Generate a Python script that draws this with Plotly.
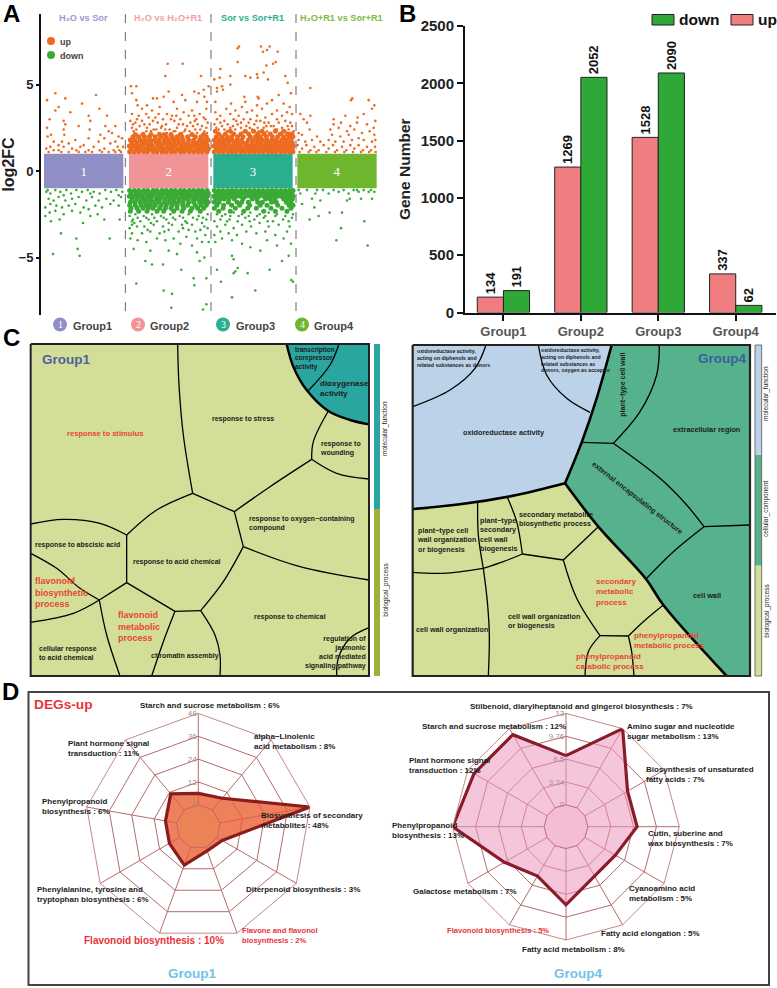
import plotly.graph_objects as go

W, H = 777, 988
FONT = "Liberation Sans"

# -------------------------------
# panel A : log2FC strip, x is only the gene position inside a group
# -------------------------------
a_groups = [250, 505, 758, 1010]
a_numbers = ["1", "2", "3", "4"]
a_colors = ["#8F8FC6", "#F09498", "#2BAE8F", "#6FB62F"]
a_titles = ["H₂O vs Sor", "H₂O vs H₂O+R1", "Sor vs Sor+R1", "H₂O+R1 vs Sor+R1"]
a_title_colors = ["#9A9AD0", "#F2A2A2", "#2BAE8F", "#7DBB3E"]
a_dividers = [375, 632, 887]

up1 = [(140,4.1),(165,4.5),(195,4.2),(245,3.9),(287,4.4),(297,3.6),(320,3.2),(175,3.7),(165,3.5),(210,3.4),(148,3.0),(190,2.9),(265,3.2),(270,2.9),(235,2.6),(195,2.7),(190,2.4),(192,2.1),(140,2.5),(142,2.0),(152,2.1),(268,2.4),(315,2.6),(345,2.6),(335,2.2),(325,2.3),(300,2.1),(355,2.0),(365,1.9),(345,1.7),(160,1.7),(175,1.5),(185,1.7),(205,1.6),(225,1.8),(250,1.5),(265,1.9),(295,1.7),(312,1.9),(330,1.6),(138,1.3),(150,1.4),(160,1.2),(175,1.2),(190,1.4),(205,1.1),(215,1.3),(228,1.2),(240,1.4),(255,1.1),(265,1.2),(280,1.4),(298,1.2),(312,1.3),(325,1.1),(340,1.2),(352,1.4),(362,1.1),(368,1.4),(145,1.1),(183,1.1),(235,1.1),(275,1.1),(305,1.1),(345,1.1),(357,1.2)]
up2 = [(392,4.9),(408,4.9),(395,4.5),(408,4.1),(412,3.8),(440,3.8),(458,4.2),(470,4.2),(490,4.3),(505,4.6),(495,5.5),(502,6.2),(547,6.2),(602,5.5),(625,4.9),(610,4.7),(582,4.6),(595,4.5),(612,4.3),(520,4.0),(545,4.4),(555,4.1),(590,4.0),(620,4.0),(425,3.6),(455,3.5),(478,3.7),(500,3.3),(530,3.6),(550,3.4),(575,3.5),(598,3.3),(618,3.6),(395,3.3),(415,3.2),(438,3.3),(465,3.1),(488,3.0),(515,3.2),(540,3.0),(565,3.2),(588,3.0),(610,3.1),(390,2.9),(405,2.8),(425,2.9),(448,2.7),(472,2.8),(497,2.7),(522,2.9),(548,2.7),(570,2.8),(592,2.7),(622,2.8),(395,2.5),(418,2.6),(440,2.5),(460,2.4),(482,2.5),(508,2.4),(530,2.5),(555,2.4),(578,2.6),(600,2.4),(618,2.5),(400,2.3),(430,2.2),(452,2.3),(475,2.2),(500,2.2),(525,2.3),(545,2.2),(568,2.3),(590,2.2),(612,2.3),(410,3.0),(432,2.7),(458,2.9),(485,2.6),(512,3.0),(535,2.7),(560,2.6),(583,2.9),(605,2.6),(398,2.7),(445,3.1),(475,3.3),(528,3.2),(582,3.2),(615,3.0),(408,2.4),(438,2.3),(468,2.4),(495,2.4),(520,2.3),(552,2.3),(585,2.4),(620,2.2)]
up3 = [(712,7.1),(716,7.2),(712,6.3),(782,7.2),(788,6.9),(800,7.0),(808,7.2),(832,6.9),(826,6.3),(818,6.2),(798,6.1),(660,5.9),(642,5.3),(658,5.4),(690,5.5),(735,5.5),(750,5.4),(770,5.6),(772,5.4),(790,5.7),(803,5.3),(855,5.5),(862,5.1),(650,4.8),(665,4.9),(690,5.0),(650,4.6),(668,4.7),(732,4.3),(772,4.3),(775,4.2),(835,4.4),(872,4.5),(645,4.0),(692,3.9),(735,4.0),(770,3.8),(800,3.9),(815,4.1),(850,3.9),(868,3.7),(678,3.6),(705,3.5),(725,3.7),(755,3.5),(785,3.6),(830,3.5),(860,3.4),(645,3.4),(660,3.2),(690,3.3),(715,3.2),(740,3.4),(770,3.2),(795,3.1),(815,3.3),(845,3.2),(875,3.3),(650,3.0),(672,2.9),(700,3.0),(722,2.8),(750,3.0),(780,2.9),(805,2.8),(830,3.0),(855,2.9),(870,2.8),(642,2.7),(665,2.6),(690,2.5),(712,2.7),(738,2.6),(762,2.7),(790,2.5),(820,2.6),(845,2.5),(875,2.6),(655,2.4),(680,2.3),(705,2.4),(730,2.3),(755,2.4),(775,2.3),(800,2.3),(825,2.4),(855,2.3),(870,2.2),(660,2.8),(682,2.7),(708,2.9),(730,3.0),(745,2.8),(768,2.9),(792,2.8),(812,2.6),(835,2.8),(862,2.6),(648,2.5),(672,2.4),(698,2.6),(722,2.5),(748,2.5),(772,2.5),(798,2.6),(830,2.4),(865,2.4),(880,2.3)]
up4 = [(900,3.3),(910,3.0),(930,4.8),(930,3.2),(920,2.8),(895,2.2),(905,2.1),(928,2.4),(950,2.0),(1052,4.1),(1056,4.2),(1105,4.1),(1122,3.8),(1115,3.6),(1000,3.0),(1035,3.2),(1072,3.1),(1090,3.3),(1125,2.9),(1000,2.7),(1022,2.8),(1050,2.6),(1070,2.8),(1100,2.7),(1120,2.5),(990,2.4),(1015,2.5),(1040,2.3),(1062,2.4),(1085,2.2),(1108,2.3),(1122,2.1),(995,2.1),(1020,2.0),(1045,2.1),(1075,1.9),(895,1.8),(915,1.7),(935,1.8),(960,1.7),(985,1.8),(1005,1.7),(1030,1.7),(1055,1.8),(1090,1.8),(1115,1.7),(1125,1.8),(892,1.5),(905,1.3),(918,1.5),(930,1.2),(942,1.4),(955,1.2),(970,1.5),(985,1.3),(998,1.5),(1010,1.2),(1025,1.4),(1038,1.2),(1050,1.5),(1062,1.3),(1075,1.5),(1088,1.2),(1100,1.4),(1112,1.2),(1124,1.4),(898,1.1),(925,1.1),(948,1.1),(978,1.1),(1004,1.1),(1032,1.1),(1058,1.1),(1082,1.1),(1106,1.1),(1126,1.1)]
down1 = [(158,-4.8),(238,-4.9),(232,-4.5),(182,-3.6),(228,-3.9),(328,-3.9),(248,-3.0),(312,-2.8),(358,-2.8),(135,-2.6),(152,-2.9),(178,-2.8),(270,-2.6),(292,-2.5),(148,-2.4),(165,-2.3),(190,-2.5),(215,-2.3),(240,-2.4),(265,-2.2),(135,-2.1),(150,-1.9),(168,-2.0),(185,-2.1),(205,-2.0),(225,-1.9),(250,-2.1),(285,-2.0),(305,-2.1),(330,-1.9),(355,-2.0),(145,-1.6),(160,-1.7),(175,-1.5),(195,-1.7),(215,-1.6),(235,-1.5),(258,-1.7),(275,-1.5),(295,-1.7),(318,-1.6),(340,-1.7),(362,-1.5),(138,-1.2),(150,-1.3),(165,-1.1),(180,-1.2),(198,-1.1),(212,-1.3),(228,-1.1),(245,-1.2),(262,-1.1),(280,-1.2),(298,-1.3),(315,-1.1),(332,-1.2),(348,-1.1),(366,-1.2),(142,-1.1),(190,-1.4),(270,-1.3),(355,-1.4)]
down2 = [(455,-8.4),(513,-7.9),(608,-8.0),(618,-7.7),(490,-6.9),(515,-7.1),(408,-6.5),(582,-6.6),(580,-6.2),(618,-6.2),(543,-5.7),(435,-5.2),(455,-5.4),(488,-5.4),(598,-5.2),(612,-5.0),(400,-4.5),(450,-4.6),(505,-4.6),(530,-4.8),(590,-4.7),(540,-4.2),(575,-4.3),(605,-4.1),(625,-4.1),(390,-3.9),(412,-4.0),(438,-4.1),(470,-3.9),(495,-4.0),(520,-3.9),(558,-3.8),(590,-3.9),(615,-3.7),(395,-3.6),(425,-3.6),(450,-3.5),(478,-3.6),(505,-3.4),(535,-3.5),(565,-3.4),(600,-3.4),(622,-3.3),(388,-3.3),(410,-3.2),(432,-3.2),(460,-3.1),(488,-3.2),(515,-3.1),(545,-3.1),(575,-3.1),(605,-3.0),(395,-2.9),(420,-2.9),(445,-2.8),(470,-2.9),(498,-2.8),(525,-2.8),(555,-2.9),(590,-2.8),(618,-2.8),(388,-2.6),(405,-2.5),(430,-2.6),(455,-2.5),(482,-2.6),(510,-2.5),(538,-2.6),(565,-2.5),(595,-2.6),(622,-2.5),(398,-2.8),(412,-2.7),(438,-2.7),(462,-2.7),(490,-2.7),(518,-2.7),(548,-2.7),(578,-2.7),(608,-2.7),(402,-3.0),(452,-3.0),(505,-3.0),(560,-3.0),(612,-3.2),(395,-3.1),(442,-3.4),(492,-3.5),(548,-3.3),(585,-3.5)]
down3 = [(695,-7.3),(765,-6.9),(650,-5.7),(662,-6.4),(700,-5.9),(705,-5.8),(712,-5.6),(742,-5.9),(808,-5.7),(873,-6.3),(878,-6.4),(695,-4.9),(700,-5.1),(845,-5.2),(865,-4.9),(750,-4.4),(780,-4.6),(830,-4.3),(872,-4.2),(645,-4.1),(665,-3.9),(695,-4.0),(725,-4.2),(800,-4.0),(850,-3.9),(642,-3.7),(660,-3.5),(685,-3.6),(710,-3.7),(738,-3.5),(768,-3.6),(795,-3.5),(825,-3.7),(860,-3.5),(650,-3.2),(675,-3.1),(700,-3.3),(725,-3.1),(752,-3.2),(778,-3.0),(805,-3.2),(835,-3.1),(868,-3.2),(642,-2.9),(660,-2.8),(688,-2.8),(712,-2.9),(735,-2.7),(762,-2.8),(790,-2.7),(818,-2.9),(848,-2.8),(875,-2.7),(650,-2.5),(675,-2.5),(700,-2.4),(725,-2.5),(750,-2.4),(778,-2.5),(805,-2.4),(830,-2.5),(858,-2.4),(665,-2.6),(690,-2.6),(715,-2.6),(745,-2.6),(770,-2.6),(795,-2.6),(825,-2.6),(855,-2.6),(878,-2.5),(680,-2.9),(748,-2.9),(802,-2.9),(865,-2.9)]
down4 = [(1008,-4.0),(1102,-4.3),(1022,-3.3),(1092,-2.9),(928,-2.8),(955,-2.6),(988,-2.4),(1025,-2.4),(942,-2.1),(905,-1.9),(960,-1.7),(1040,-1.7),(1048,-1.6),(1082,-1.6),(1115,-1.6),(935,-1.6),(900,-1.3),(920,-1.1),(945,-1.3),(968,-1.1),(985,-1.3),(1000,-1.1),(1015,-1.2),(1030,-1.1),(1045,-1.3),(1060,-1.1),(1075,-1.2),(1090,-1.1),(1105,-1.2),(1122,-1.2),(895,-1.1),(950,-1.1),(1070,-1.1),(1112,-1.1)]

# dense part of the clouds : level -> gene positions
up2_dense = {1.12: [388,402,415,430,442,458,470,485,498,512,525,540,552,567,580,594,606,620],
             1.28: [392,408,420,436,450,463,478,490,505,518,533,546,560,572,588,600,614,624],
             1.45: [387,400,414,428,444,456,472,484,500,514,526,542,555,568,582,596,608,621],
             1.62: [395,410,425,438,452,468,480,495,508,522,536,550,563,578,590,604,618],
             1.8: [390,404,420,434,448,462,476,492,506,520,534,548,565,580,598,612,623],
             1.98: [398,415,432,447,465,482,498,515,530,545,562,585,602,618],
             2.12: [405,428,452,478,492,512,540,575,610]}
up3_dense = {1.12: [642,655,668,682,695,708,722,735,748,762,775,788,802,815,828,842,855,868,878],
             1.28: [648,660,674,688,700,715,728,742,755,768,782,795,808,822,835,848,862,875],
             1.45: [641,654,668,680,695,708,720,736,750,762,776,790,802,816,830,842,856,870,878],
             1.62: [646,660,672,686,702,714,728,740,756,770,782,796,810,824,836,850,864,876],
             1.8: [642,656,670,684,696,710,724,744,758,772,786,800,814,828,844,858,872],
             1.98: [648,664,680,694,712,728,750,766,780,798,816,832,850,866,878],
             2.15: [655,675,700,722,745,772,792,810,840,862,875],
             2.3: [645,690,735,760,785,825,850]}
down2_dense = {-1.12: [388,402,415,430,442,458,470,485,498,512,525,540,552,567,580,594,606,620],
               -1.28: [392,408,420,436,450,463,478,490,505,518,533,546,560,572,588,600,614,624],
               -1.45: [387,400,414,428,444,456,472,484,500,514,526,542,555,568,582,596,608,621],
               -1.62: [395,410,425,438,452,468,480,495,508,522,536,550,563,578,590,604,618],
               -1.8: [390,404,420,434,448,462,476,492,506,520,534,548,565,580,598,612,623],
               -1.98: [388,405,422,437,450,465,482,498,515,530,547,562,585,602,618],
               -2.15: [392,410,428,444,458,478,495,512,530,550,575,592,610],
               -2.32: [390,415,440,470,490,520,545,570,600]}
down3_dense = {-1.12: [642,655,668,682,695,708,722,735,748,762,775,788,802,815,828,842,855,868,878],
               -1.28: [648,660,674,688,700,715,728,742,755,768,782,795,808,822,835,848,862,875],
               -1.45: [641,654,668,680,695,708,720,736,750,762,776,790,802,816,830,842,856,870,878],
               -1.62: [646,660,672,686,702,728,756,770,796,810,824,850,864,876],
               -1.8: [642,656,684,710,724,744,772,786,814,828,858,872],
               -1.98: [650,670,694,718,748,780,800,832,866,878],
               -2.15: [642,668,705,742,768,812,845,872],
               -2.32: [655,690,730,790,825,860]}

# -------------------------------
# panel B : gene numbers
# -------------------------------
groups = ["Group1", "Group2", "Group3", "Group4"]
up_counts = [134, 1269, 1528, 337]
down_counts = [191, 2052, 2090, 62]

# -------------------------------
# panel C : voronoi treemaps, outlines
# -------------------------------
c1_teal = [(860,27),(868,60),(880,95),(898,132),(920,165),(950,198),(985,228),(1018,243),(1050,255),(1107,268),(1107,27)]
c1_heavy = [[(860,27),(880,95),(920,165),(985,228),(1050,255),(1107,268)]]
c1_thin = [
    [(1017,27),(990,90),(925,167)],
    [(533,27),(537,150),(550,300),(578,475)],
    [(578,475),(703,530)],
    [(703,530),(810,455),(935,373)],
    [(935,373),(940,320),(985,228)],
    [(935,373),(1010,415),(1107,432)],
    [(703,530),(730,635)],
    [(730,635),(900,695),(1107,735)],
    [(730,635),(670,740),(602,827)],
    [(602,827),(525,829)],
    [(525,829),(380,743)],
    [(380,743),(380,600)],
    [(380,600),(470,525),(578,475)],
    [(380,600),(300,565),(190,553),(92,567)],
    [(380,743),(298,795)],
    [(298,795),(240,760),(170,700),(92,655)],
    [(298,795),(220,835),(92,862)],
    [(298,795),(320,900),(360,1023)],
    [(525,829),(490,920),(455,1023)],
    [(602,827),(645,900),(660,960),(660,1023)],
    [(1107,878),(1050,910),(1015,970),(1010,1023)],
]
c1_labels = [
    (198, 295, "response to stimulus", "r", 7.6),
    (632, 253, "response to stress", "k", 7),
    (957, 341, "response to<br>wounding", "k", 7),
    (745, 565, "response to oxygen−containing<br>compound", "k", 7),
    (102, 629, "response to abscisic acid", "k", 7),
    (395, 682, "response to acid chemical", "k", 7),
    (760, 847, "response to chemical", "k", 7),
    (102, 771, "flavonoid<br>biosynthetic<br>process", "r", 9),
    (352, 874, "flavonoid<br>metabolic<br>process", "r", 9),
    (115, 955, "cellular response<br>to acid chemical", "k", 7),
    (450, 962, "chromatin assembly", "k", 7),
    (882, 70, "transcription<br>corepressor<br>activity", "k", 6.5),
    (957, 162, "dioxygenase<br>activity", "k", 8),
]
c1_right_label = (1100, 953, "regulation of<br>jasmonic<br>acid mediated<br>signaling pathway")

c4_blue = [(38,30),(635,30),(590,190),(545,322),(495,445),(350,480),(180,508),(38,522)]
c4_green = [(635,30),(1050,30),(1050,1023),(980,1023),(790,810),(738,732),(595,575),(495,445),(545,322),(590,190)]
c4_heavy = [
    [(635,30),(590,190),(545,322),(495,445)],
    [(495,445),(350,480),(180,508),(38,522)],
    [(495,445),(595,575),(738,732),(790,810),(980,1023)],
]
c4_thin = [
    [(258,30),(225,100),(150,165),(38,215)],
    [(415,30),(440,120),(500,190),(570,232)],
    [(778,30),(770,120),(720,230),(640,325)],
    [(545,322),(640,325)],
    [(640,325),(780,430),(860,510),(912,575)],
    [(912,575),(1050,570)],
    [(912,575),(820,650),(738,732)],
    [(233,500),(235,600),(250,700)],
    [(322,487),(350,560),(367,657)],
    [(367,657),(490,675)],
    [(490,675),(595,575)],
    [(250,700),(310,680),(367,657)],
    [(38,712),(130,715),(250,700)],
    [(250,700),(262,800),(268,900),(265,1023)],
    [(490,675),(530,790),(600,902)],
    [(600,902),(685,903)],
    [(685,903),(730,860),(790,810)],
    [(600,902),(565,950),(555,1023)],
    [(685,903),(695,950),(702,1023)],
]
c4_labels = [
    (47, 70, "oxidoreductase activity,<br>acting on diphenols and<br>related substances as donors", "k", 5.2),
    (420, 75, "oxidoreductase activity,<br>acting on diphenols and<br>related substances as<br>donors, oxygen as acceptor", "k", 5.2),
    (187, 292, "oxidoreductase activity", "k", 7.3),
    (815, 284, "extracellular region", "k", 7.3),
    (875, 780, "cell wall", "k", 7.3),
    (353, 552, "secondary metabolite<br>biosynthetic process", "k", 7.2),
    (48, 615, "plant−type cell<br>wall organization<br>or biogenesis", "k", 7.2),
    (238, 598, "plant−type<br>secondary<br>cell wall<br>biogenesis", "k", 7.2),
    (320, 858, "cell wall organization<br>or biogenesis", "k", 7.2),
    (45, 883, "cell wall organization", "k", 7.2),
    (585, 770, "secondary<br>metabolic<br>process", "r", 8),
    (700, 915, "phenylpropanoid<br>metabolic process", "r", 8),
    (525, 980, "phenylpropanoid<br>catabolic process", "r", 8),
]

# -------------------------------
# panel D : radars
# -------------------------------
d1_terms = ["Starch and sucrose", "alpha-Linolenic", "Secondary metabolites", "Diterpenoid", "Flavone and flavonol",
            "Flavonoid", "Phe, Tyr and Trp", "Phenylpropanoid", "Plant hormone"]
d1_values = [6, 8, 48, 3, 2, 10, 6, 6, 11]
d4_terms = ["Stilbenoid", "Amino sugar", "Unsaturated fatty acids", "Cutin", "Cyanoamino acid", "Fatty acid elongation",
            "Fatty acid metabolism", "Flavonoid", "Galactose", "Phenylpropanoid", "Plant hormone", "Starch and sucrose"]
d4_values = [7, 13, 7, 7, 5, 5, 8, 5, 7, 13, 12, 12]
d1_ticks = [0, 12, 24, 36, 48]
d4_ticks = [0, 3.25, 6.5, 9.75, 13]
d4_ticktext = ["0", "3.24", "6.5", "9.76", "13"]

d1_labels = [
    (418, 75, "Starch and sucrose metabolism : 6%", "k", 8),
    (758, 185, "alpha−Linolenic<br>acid metabolism : 8%", "k", 8),
    (780, 420, "Biosynthesis of secondary<br>metabolites : 48%", "k", 8),
    (735, 627, "Diterpenoid biosynthesis : 3%", "k", 8),
    (722, 765, "Flavone and flavonol<br>biosynthesis : 2%", "r", 7.6),
    (250, 782, "Flavonoid biosynthesis : 10%", "r", 10),
    (108, 642, "Phenylalanine, tyrosine and<br>tryptophan biosynthesis : 6%", "k", 8),
    (122, 380, "Phenylpropanoid<br>biosynthesis : 6%", "k", 8),
    (200, 206, "Plant hormone signal<br>transduction : 11%", "k", 8),
]
d4_labels = [
    (268, 78, "Stilbenoid, diarylheptanoid and gingerol biosynthesis : 7%", "k", 8),
    (124, 140, "Starch and sucrose metabolism : 12%", "k", 8),
    (738, 154, "Amino sugar and nucleotide<br>sugar metabolism : 13%", "k", 8),
    (795, 282, "Biosynthesis of unsaturated<br>fatty acids : 7%", "k", 8),
    (798, 476, "Cutin, suberine and<br>wax biosynthesis : 7%", "k", 8),
    (744, 641, "Cyanoamino acid<br>metabolism : 5%", "k", 8),
    (660, 760, "Fatty acid elongation : 5%", "k", 8),
    (424, 808, "Fatty acid metabolism : 8%", "k", 8),
    (198, 752, "Flavonoid biosynthesis : 5%", "r", 7.6),
    (97, 635, "Galactose metabolism : 7%", "k", 8),
    (33, 450, "Phenylpropanoid<br>biosynthesis : 13%", "k", 8),
    (85, 257, "Plant hormone signal<br>transduction : 12%", "k", 8),
]

TEXT_COLORS = {"k": "#1c1c1c", "r": "#E8452F"}
RED_D = "#E8333A"


def px(x):
    return x / W


def py(y):
    return 1 - y / H


fig = go.Figure()
annotations = []
shapes = []


def note(x, y, text, size, color="#111", bold=True, anchor="left", angle=0, xref="paper", yref="paper", family=FONT):
    if xref == "paper":
        x, y = px(x), py(y)
    annotations.append(dict(x=x, y=y, xref=xref, yref=yref, text=f"<b>{text}</b>" if bold else text,
                            showarrow=False, xanchor=anchor, yanchor="middle", align=anchor, textangle=angle,
                            font=dict(family=family, size=size, color=color), borderpad=0))


def rect(x0, y0, x1, y1, fill, line="rgba(0,0,0,0)", width=0):
    shapes.append(dict(type="rect", xref="paper", yref="paper", x0=px(x0), x1=px(x1), y0=py(y0), y1=py(y1),
                       fillcolor=fill, line=dict(color=line, width=width)))


def circle(x, y, r, fill):
    shapes.append(dict(type="circle", xref="paper", yref="paper", x0=px(x - r), x1=px(x + r), y0=py(y - r), y1=py(y + r),
                       fillcolor=fill, line=dict(width=0)))


def path(points, axis, width=1.3, color="black", shape="spline"):
    fig.add_trace(go.Scatter(x=[p[0] for p in points], y=[p[1] for p in points], mode="lines", xaxis=f"x{axis}",
                             yaxis=f"y{axis}", line=dict(color=color, width=width, shape=shape),
                             hoverinfo="skip", showlegend=False))


def block(points, axis, fill):
    pts = points + points[:1]
    fig.add_trace(go.Scatter(x=[p[0] for p in pts], y=[p[1] for p in pts], mode="lines", xaxis=f"x{axis}",
                             yaxis=f"y{axis}", fill="toself", fillcolor=fill, line=dict(width=0),
                             hoverinfo="skip", showlegend=False))


# -------------------------------
# A
# -------------------------------
fig.add_trace(go.Bar(x=a_groups, y=[2, 2, 2, 2], base=-1, width=238, marker=dict(color=a_colors, line=dict(width=0)),
                     text=a_numbers, textposition="inside", insidetextanchor="middle", textangle=0,
                     textfont=dict(family="Liberation Serif", size=13, color="white"),
                     xaxis="x1", yaxis="y1", showlegend=False, hoverinfo="skip"))
for rows, color in [(up2_dense, "#EC6B1F"), (up3_dense, "#EC6B1F"), (down2_dense, "#3BAA35"), (down3_dense, "#3BAA35")]:
    xs, ys = [], []
    for level, positions in rows.items():
        xs += positions
        ys += [level] * len(positions)
    fig.add_trace(go.Scatter(x=xs, y=ys, mode="markers", xaxis="x1", yaxis="y1",
                             marker=dict(color=color, size=5), showlegend=False))
for cloud, color in [(up1, "#EC6B1F"), (up2, "#EC6B1F"), (up3, "#EC6B1F"), (up4, "#EC6B1F"),
                     (down1, "#3BAA35"), (down2, "#3BAA35"), (down3, "#3BAA35"), (down4, "#3BAA35")]:
    fig.add_trace(go.Scatter(x=[p[0] for p in cloud], y=[p[1] for p in cloud], mode="markers", xaxis="x1", yaxis="y1",
                             marker=dict(color=color, size=2.6), showlegend=False))
for d in a_dividers:
    shapes.append(dict(type="line", xref="x1", yref="paper", x0=d, x1=d, y0=py(14), y1=py(316),
                       line=dict(color="#666", width=1, dash="dash")))
for g, t, c in zip(a_groups, a_titles, a_title_colors):
    note(g / 3 + (5 if g == 1010 else 0), 18, t, 9.2, c, anchor="center")
circle(51, 41, 4, "#EC6B1F")
circle(51, 55, 4, "#3BAA35")
note(59, 42, "up", 9, "#444")
note(59, 56, "down", 9, "#444")
for x_c, x_t, n, g, c in zip([60, 138, 223, 302], [72, 149, 235, 313], a_numbers, groups, a_colors):
    circle(x_c, 324.5, 7, c)
    note(x_c, 324.5, n, 10, "white", bold=False, anchor="center", family="Liberation Serif")
    note(x_t, 325.5, g, 11, "#444")

# -------------------------------
# B
# -------------------------------
fig.add_trace(go.Bar(x=groups, y=up_counts, name="up", xaxis="x2", yaxis="y2", text=up_counts,
                     marker=dict(color="#F07E80", line=dict(color="#222", width=1)), offsetgroup="u"))
fig.add_trace(go.Bar(x=groups, y=down_counts, name="down", xaxis="x2", yaxis="y2", text=down_counts,
                     marker=dict(color="#2EA836", line=dict(color="#222", width=1)), offsetgroup="d"))
fig.update_traces(selector=dict(xaxis="x2"), textposition="outside", textangle=-90, cliponaxis=False,
                  constraintext="none", textfont=dict(family=FONT, size=13, color="#111", weight=700))
rect(652, 14.5, 674, 25, "#2EA836", "#222", 1)
note(678, 20, "down", 15.5)
rect(731, 14.5, 753, 25, "#F07E80", "#222", 1)
note(757, 20, "up", 15.5)

# -------------------------------
# C
# -------------------------------
C_BG = "#D3DF98"
block([(92,27),(1107,27),(1107,1023),(92,1023)], 3, C_BG)
block(c1_teal, 3, "#2AA5A0")
for seg in c1_thin:
    path(seg, 3)
for seg in c1_heavy:
    path(seg, 3, 2.4)
path([(92,27),(1107,27),(1107,1023),(92,1023),(92,27)], 3, 2, "#222", "linear")
block([(1122,27),(1140,27),(1140,522),(1122,522)], 3, "#2AA5A0")
block([(1122,522),(1140,522),(1140,1023),(1122,1023)], 3, "#9DB03A")
for x, y, t, c, s in c1_labels:
    note(x, y, t, s, TEXT_COLORS[c], xref="x3", yref="y3")
note(*c1_right_label[:3], 7, TEXT_COLORS["k"], anchor="right", xref="x3", yref="y3")
note(122, 74, "Group1", 13.5, "#4F5F9D", xref="x3", yref="y3")
note(1157, 280, "molecular_function", 6.5, "#222", bold=False, anchor="center", angle=-90, xref="x3", yref="y3")
note(1157, 765, "biological_process", 6.5, "#222", bold=False, anchor="center", angle=-90, xref="x3", yref="y3")

block([(38,30),(1050,30),(1050,1023),(38,1023)], 4, C_BG)
block(c4_blue, 4, "#BBD2E8")
block(c4_green, 4, "#56B28C")
for seg in c4_thin:
    path(seg, 4)
for seg in c4_heavy:
    path(seg, 4, 2.6)
path([(38,30),(1050,30),(1050,1023),(38,1023),(38,30)], 4, 2.2, "#222", "linear")
block([(1065,30),(1085,30),(1085,360),(1065,360)], 4, "#BBD2E8")
block([(1065,360),(1085,360),(1085,692),(1065,692)], 4, "#56B28C")
block([(1065,692),(1085,692),(1085,1023),(1065,1023)], 4, C_BG)
path([(1065,30),(1085,30),(1085,1023),(1065,1023),(1065,30)], 4, 0.8, "#555", "linear")
for x, y, t, c, s in c4_labels:
    note(x, y, t, s, TEXT_COLORS[c], xref="x4", yref="y4")
note(670, 148, "plant−type cell wall", 7, TEXT_COLORS["k"], anchor="center", angle=-90, xref="x4", yref="y4")
note(711, 488, "external encapsulating structure", 7.3, TEXT_COLORS["k"], anchor="center", angle=38, xref="x4", yref="y4")
note(1040, 72, "Group4", 13.5, "#3E5E9C", anchor="right", xref="x4", yref="y4")
note(1100, 175, "molecular_function", 6.5, "#222", bold=False, anchor="center", angle=-90, xref="x4", yref="y4")
note(1100, 520, "cellular_component", 6.5, "#222", bold=False, anchor="center", angle=-90, xref="x4", yref="y4")
note(1100, 828, "biological_process", 6.5, "#222", bold=False, anchor="center", angle=-90, xref="x4", yref="y4")

# -------------------------------
# D
# -------------------------------
GRID = "#B56B6B"
shapes.append(dict(type="rect", xref="paper", yref="paper", x0=px(28.5), x1=px(769), y0=py(692), y1=py(985),
                   line=dict(color="#444", width=2)))
# ring of value 0 stays closed and covers the spokes inside it
for terms, sub, disc, vals, fill, col in [(d1_terms, "polar", "#EE8257", d1_values, "rgba(233,92,48,0.78)", "#8A1C1E"),
                                          (d4_terms, "polar2", "#F5BCD6", d4_values, "rgba(236,150,190,0.55)", "#8A1C2A")]:
    fig.add_trace(go.Scatterpolar(r=vals + vals[:1], theta=terms + terms[:1], subplot=sub, mode="lines", fill="toself",
                                  fillcolor=fill, line=dict(color=col, width=3.2), showlegend=False))
    zero = [0] * (len(terms) + 1)
    fig.add_trace(go.Scatterpolar(r=zero, theta=terms + terms[:1], subplot=sub, mode="lines", fill="toself",
                                  fillcolor=disc, line=dict(color=GRID, width=0.8), showlegend=False))
for x, y, t, c, s in d1_labels:
    note(x / 3, 680 + y / 3, t, s, RED_D if c == "r" else TEXT_COLORS["k"])
for x, y, t, c, s in d4_labels:
    note(380 + x / 3, 680 + y / 3, t, s, RED_D if c == "r" else TEXT_COLORS["k"])
note(33, 704, "DEGs-up", 13.7, RED_D)
note(192, 973, "Group1", 13.5, "#6FC3E6", anchor="center")
note(578, 973, "Group4", 13.5, "#6FC3E6", anchor="center")

for letter, x, y in [("A", 11, 14), ("B", 408, 14), ("C", 11, 338), ("D", 10, 691)]:
    note(x, y, letter, 24, "#000", anchor="center")


def polar_layout(cx, cy, r, ticks, ticktext, low, maximum):
    return dict(domain=dict(x=[px(cx - r), px(cx + r)], y=[py(cy + r), py(cy - r)]), gridshape="linear",
                bgcolor="rgba(0,0,0,0)",
                angularaxis=dict(rotation=90, direction="clockwise", showticklabels=False, ticks="",
                                 gridcolor=GRID, gridwidth=0.8, linecolor=GRID, linewidth=0.8),
                radialaxis=dict(range=[low, maximum], angle=90, tickangle=90, tickvals=ticks, ticktext=ticktext,
                                tickfont=dict(family=FONT, size=8, color="#A88"), ticks="", showline=False,
                                gridcolor=GRID, gridwidth=0.8, side="counterclockwise"))


def axis(range_, domain, **kw):
    base = dict(range=range_, domain=domain, showgrid=False, zeroline=False, showticklabels=False, ticks="",
                showline=False, fixedrange=True)
    base.update(kw)
    return base


fig.update_layout(
    width=W, height=H, margin=dict(l=0, r=0, t=0, b=0, autoexpand=False), paper_bgcolor="white",
    plot_bgcolor="rgba(0,0,0,0)",
    autosize=False, showlegend=False, barmode="group", bargap=0.325, bargroupgap=0,
    font=dict(family=FONT),
    xaxis1=axis([122, 1160], [px(41), px(387)], anchor="y1"),
    yaxis1=axis([-8.32, 9.08], [py(315), py(14)], anchor="x1", showline=True, linecolor="#111", linewidth=2,
                showticklabels=True, tickvals=[-5, 0, 5], ticks="outside", ticklen=3, tickwidth=2, tickcolor="#111",
                tickfont=dict(family=FONT, size=13, color="#222", weight=700),
                title=dict(text="<b>log2FC</b>", font=dict(family=FONT, size=16, color="#222"), standoff=4)),
    xaxis2=dict(domain=[px(465), px(776)], range=[-0.496, 3.52], anchor="y2", showline=True, linecolor="#111", linewidth=2,
                ticks="outside", ticklen=6, tickwidth=2, tickcolor="#111", showgrid=False, zeroline=False,
                tickfont=dict(family=FONT, size=13, color="#555", weight=700)),
    yaxis2=dict(domain=[py(312.5), py(26)], range=[0, 2500], anchor="x2", showline=True, linecolor="#111", linewidth=2,
                ticks="outside", ticklen=6, tickwidth=2, tickcolor="#111", showgrid=False, zeroline=False,
                tickvals=[0, 500, 1000, 1500, 2000, 2500],
                tickfont=dict(family=FONT, size=15, color="#222", weight=700),
                title=dict(text="<b>Gene Number</b>", font=dict(family=FONT, size=15.5, color="#222"), standoff=6)),
    xaxis3=axis([0, 1200], [0, px(400)], anchor="y3"),
    yaxis3=axis([1050, 0], [py(685), py(335)], anchor="x3"),
    xaxis4=axis([0, 1131], [px(400), px(777)], anchor="y4"),
    yaxis4=axis([1050, 0], [py(685), py(335)], anchor="x4"),
    polar=polar_layout(198.3, 826.7, 113.3, d1_ticks, [str(t) for t in d1_ticks], -11.5, 48),
    polar2=polar_layout(566, 826.7, 113.3, d4_ticks, d4_ticktext, -3.1, 13),
    annotations=annotations, shapes=shapes,
)
fig.write_html("out.html", config={"displayModeBar": False}, post_script="document.body.style.margin='0';")
